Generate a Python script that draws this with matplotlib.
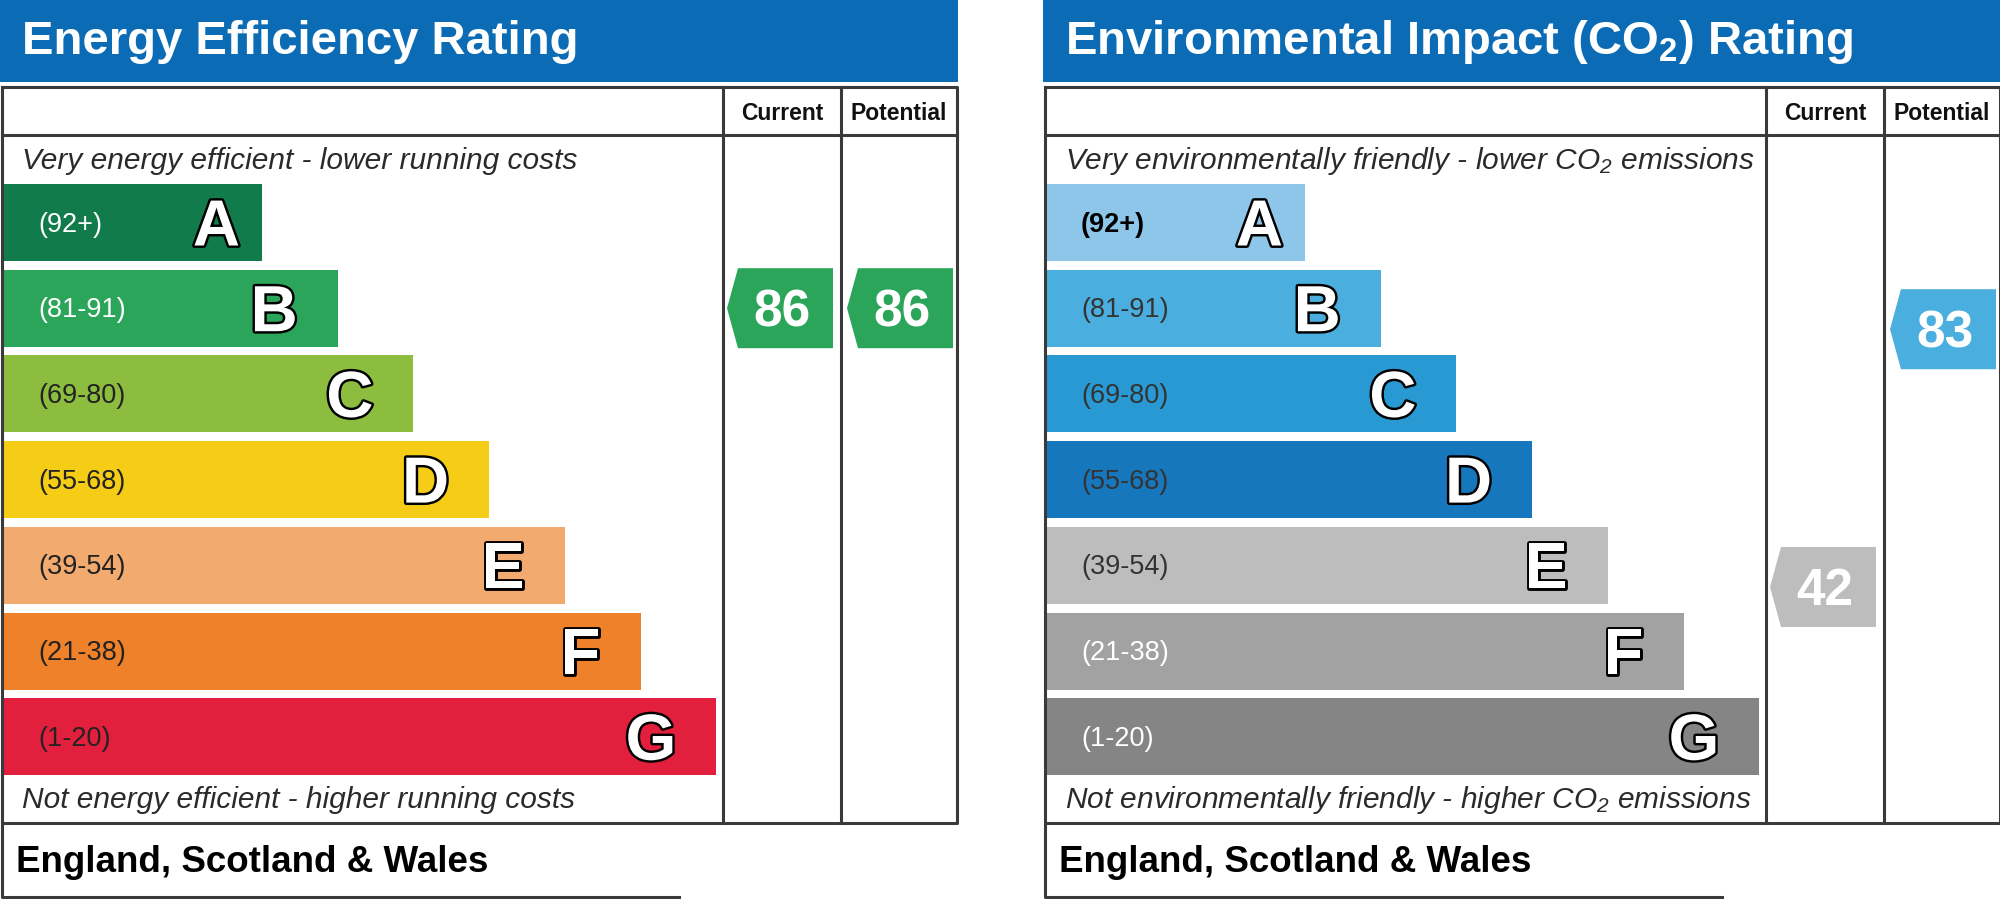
import matplotlib.pyplot as plt
from matplotlib.patches import Rectangle, Polygon
import matplotlib.patheffects as pe

plt.rcParams['font.family'] = ['Liberation Sans', 'DejaVu Sans']
plt.rcParams['mathtext.default'] = 'regular'

# bands, shared by both charts
letters = ['A', 'B', 'C', 'D', 'E', 'F', 'G']
band_lo = [92, 81, 69, 55, 39, 21, 1]
band_hi = [100, 91, 80, 68, 54, 38, 20]
band_labels = ['(92+)', '(81-91)', '(69-80)', '(55-68)', '(39-54)', '(21-38)', '(1-20)']

# energy efficiency chart
eer_colors = ['#117b4c', '#2ba55a', '#8dbd3f', '#f5cd17', '#f2aa6e', '#ee8129', '#e21f3c']
eer_label_colors = ['white', 'white', '#222222', '#222222', '#222222', '#222222', '#222222']
eer_current = 86
eer_potential = 86

# environmental impact chart
eir_colors = ['#8dc6e8', '#4aaede', '#2899d2', '#1677bd', '#bdbdbd', '#a2a2a2', '#858585']
eir_label_colors = ['black', '#333333', '#333333', '#333333', '#333333', 'white', 'white']
eir_current = 42
eir_potential = 83

BLUE = '#0b6cb5'
LINE = '#3a3a3a'
LW = 2.2

fig = plt.figure(figsize=(20, 8.99), dpi=100)
ax = fig.add_axes([0, 0, 1, 1])
ax.set_xlim(0, 2000)
ax.set_ylim(899, 0)
ax.axis('off')

outline = [pe.withStroke(linewidth=3.5, foreground='black')]

bar_top0 = 184
pitch = 85.7
bar_h = 77
bar_w0 = 259
bar_dw = 75.7
# gap between letter and bar end (the A letter sits closer to its edge)
letter_gap = [22, 40, 40, 40, 40, 40, 40]


def band_of(v):
    for i in range(len(letters)):
        if band_lo[i] <= v <= band_hi[i]:
            return i
    return len(letters) - 1


def arrow(x_left, x_right, value, colors):
    i = band_of(value)
    top = bar_top0 + i * pitch
    cy = top + (band_hi[i] - value + 0.5) / (band_hi[i] - band_lo[i] + 1) * bar_h
    h = 80
    pts = [(x_left + 11, cy - h / 2), (x_right, cy - h / 2), (x_right, cy + h / 2),
           (x_left + 11, cy + h / 2), (x_left, cy)]
    ax.add_patch(Polygon(pts, closed=True, facecolor=colors[i], edgecolor='none'))
    ax.text((x_left + x_right) / 2 + 2, cy + 18, str(value), color='white',
            fontsize=37, fontweight='bold', ha='center', va='baseline')


def panel(x0, title, colors, label_colors, top_text, bottom_text, current, potential, bold_a):
    right = x0 + 958 if x0 == 0 else 2000
    ax.add_patch(Rectangle((x0, 0), right - x0, 82, facecolor=BLUE, edgecolor='none'))
    ax.text(x0 + 22, 54, title, color='white', fontsize=34, fontweight='bold',
            ha='left', va='baseline')

    L = x0 + 2
    R = x0 + 957
    c1 = x0 + 723
    c2 = x0 + 841
    kw = dict(color=LINE, lw=LW, solid_capstyle='projecting')
    ax.plot([L, R, R, L, L], [87, 87, 823, 823, 87], **kw)
    ax.plot([L, R], [135, 135], **kw)
    ax.plot([c1, c1], [87, 823], **kw)
    ax.plot([c2, c2], [87, 823], **kw)
    # footer box
    ax.plot([L, L, x0 + 679], [823, 897, 897], **kw)

    ax.text((c1 + c2) / 2, 120, 'Current', fontsize=16.5, fontweight='bold',
            ha='center', va='baseline', color='#111111')
    ax.text((c2 + R) / 2, 120, 'Potential', fontsize=16.5, fontweight='bold',
            ha='center', va='baseline', color='#111111')

    ax.text(x0 + 22, 169, top_text, fontsize=21.5, style='italic', color='#2a2a2a',
            ha='left', va='baseline')
    ax.text(x0 + 22, 808, bottom_text, fontsize=21.5, style='italic', color='#2a2a2a',
            ha='left', va='baseline')

    n = len(letters)
    centers = [bar_top0 + i * pitch + bar_h / 2 for i in range(n)]
    widths = [bar_w0 + i * bar_dw for i in range(n)]
    ax.barh(centers, widths, height=bar_h, left=L + 1, color=colors, edgecolor='none')
    for i in range(n):
        weight = 'bold' if (bold_a and i == 0) else 'normal'
        ax.text(x0 + 38, centers[i] + 9, band_labels[i], fontsize=19.5, color=label_colors[i],
                fontweight=weight, ha='left', va='baseline')
        ax.text(L + 1 + widths[i] - letter_gap[i], centers[i] + 23, letters[i], fontsize=47,
                fontweight='bold', color='white', ha='right', va='baseline',
                path_effects=outline)

    arrow(c1 + 4, c2 - 8, current, colors)
    arrow(c2 + 6, R - 4, potential, colors)

    ax.text(x0 + 16, 872, 'England, Scotland & Wales', fontsize=26.5, fontweight='bold',
            color='black', ha='left', va='baseline')


panel(0, 'Energy Efficiency Rating', eer_colors, eer_label_colors,
      'Very energy efficient - lower running costs',
      'Not energy efficient - higher running costs',
      eer_current, eer_potential, False)
panel(1043, 'Environmental Impact (CO$_2$) Rating', eir_colors, eir_label_colors,
      'Very environmentally friendly - lower CO$_2$ emissions',
      'Not environmentally friendly - higher CO$_2$ emissions',
      eir_current, eir_potential, True)

fig.savefig('out.png', dpi=100, facecolor='white')
